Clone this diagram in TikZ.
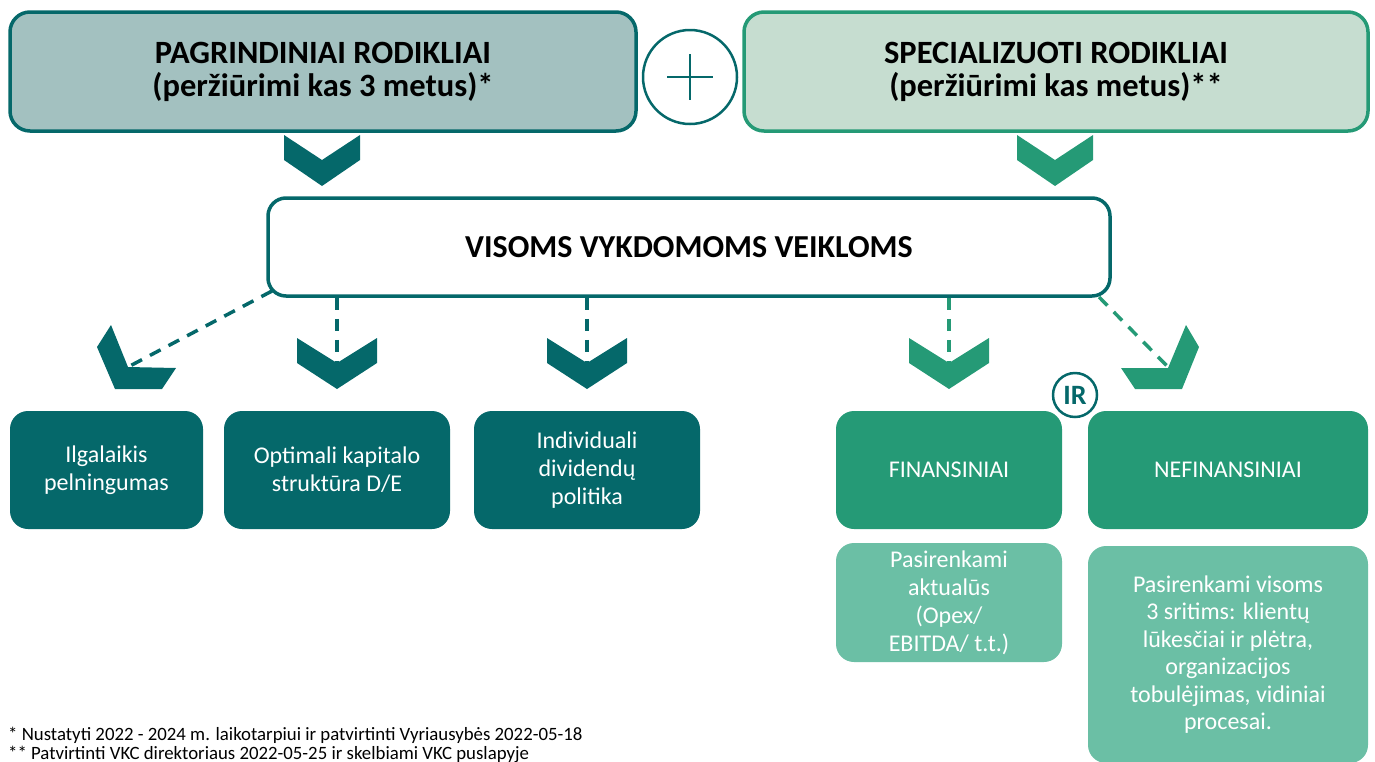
\documentclass[tikz,border=0pt]{standalone}
\usepackage{fontspec}
\setmainfont{Carlito}
\usetikzlibrary{calc}
\definecolor{dteal}{HTML}{05686A}
\definecolor{gteal}{HTML}{259A76}
\definecolor{lteal}{HTML}{6BBFA5}
\definecolor{fillA}{HTML}{A3C1C0}
\definecolor{fillB}{HTML}{C6DDD0}
\tikzset{
  topbox/.style={draw, line width=3.5pt, rounded corners=20pt, minimum height=119pt, align=center, inner sep=0pt,
     font=\fontsize{32.5}{33}\selectfont\bfseries, text=black},
  botbox/.style={rounded corners=18pt, minimum height=118pt, align=center, inner sep=0pt, text=white,
     font=\fontsize{24}{28}\selectfont},
  dashcon/.style={line width=3.5pt, dash pattern=on 12pt off 9pt},
}
\begin{document}
\begin{tikzpicture}[x=1pt,y=-1pt]
\useasboundingbox (0,0) rectangle (1375,761);
% top boxes
\node[topbox, fill=fillA, draw=dteal, minimum width=626pt] (top1) at (323,71.5) {PAGRINDINIAI RODIKLIAI\\(peržiūrimi kas 3 metus)*};
\node[topbox, fill=fillB, draw=gteal, minimum width=624pt] (top2) at (1056,71.5) {SPECIALIZUOTI RODIKLIAI\\(peržiūrimi kas metus)**};
\node[circle, draw=dteal, line width=2.5pt, minimum size=94pt, inner sep=0pt] (plus) at (690,77) {};
\draw[dteal, line width=1.6pt] ($(plus.center)+(-23,0)$) -- ($(plus.center)+(23,0)$)
  ($(plus.center)+(0,-23)$) -- ($(plus.center)+(0,23)$);
% top chevrons
\fill[dteal] (284,135) -- (322,160) -- (360,135) -- (360,160) -- (322,186) -- (284,160) -- cycle;
\fill[gteal] (1017,135) -- (1055,160) -- (1093,135) -- (1093,160) -- (1055,186) -- (1017,160) -- cycle;
% middle box
\node[draw=dteal, line width=3.5pt, rounded corners=18pt, fill=white, minimum width=842pt, minimum height=98pt,
  font=\fontsize{32}{36}\selectfont\bfseries] (mid) at (689,247) {VISOMS VYKDOMOMS VEIKLOMS};
% connector end coordinates
\coordinate (c1) at (128,367);
\coordinate (c2) at (337,363);
\coordinate (c3) at (587,363);
\coordinate (c4) at (949,363);
\coordinate (c5) at (1168,367);
\coordinate (s1) at (272,291);
\coordinate (s5) at (1099,297);
% dashed connectors
\draw[dashcon, dteal] (s1) -- (c1);
\draw[dashcon, dteal] (mid.south -| c2) -- (c2);
\draw[dashcon, dteal] (mid.south -| c3) -- (c3);
\draw[dashcon, gteal] (mid.south -| c4) -- (c4);
\draw[dashcon, gteal] (s5) -- (c5);
% small chevrons
\foreach \cx/\col in {337/dteal,587/dteal,949/gteal}{
  \fill[\col] (\cx-40,338) -- (\cx,363) -- (\cx+40,338) -- (\cx+40,363) -- (\cx,389) -- (\cx-40,363) -- cycle;
}
\fill[dteal] (111,325) -- (97,347) -- (115,389) -- (162,389) -- (176,368) -- (128,367) -- cycle;
\fill[gteal] (1186,325) -- (1199,347) -- (1182,389) -- (1135,389) -- (1121,368) -- (1168,368) -- cycle;
% IR
\node[circle, draw=dteal, line width=2.5pt, minimum size=44pt, inner sep=0pt, text=dteal,
  font=\fontsize{28}{28}\selectfont\bfseries] (ir) at (1075,395) {IR};
% bottom boxes
\node[botbox, fill=dteal, minimum width=193pt] (b1) at (106.5,470) {Ilgalaikis\\pelningumas};
\node[botbox, fill=dteal, minimum width=226pt] (b2) at (337,470) {Optimali kapitalo\\struktūra D/E};
\node[botbox, fill=dteal, minimum width=226pt] (b3) at (587,470) {Individuali\\dividendų\\politika};
\node[botbox, fill=gteal, minimum width=226pt] (b4) at (949,470) {FINANSINIAI};
\node[botbox, fill=gteal, minimum width=280pt] (b5) at (1228,470) {NEFINANSINIAI};
\node[botbox, fill=lteal, minimum width=226pt, minimum height=119pt] (b6) at (949,602.5) {Pasirenkami\\aktualūs\\(Opex/\\EBITDA/ t.t.)};
\node[botbox, fill=lteal, minimum width=280pt, minimum height=217pt, font=\fontsize{24}{27.5}\selectfont] (b7) at (1228,654.5)
  {Pasirenkami visoms\\3 sritims: klientų\\lūkesčiai ir plėtra,\\organizacijos\\tobulėjimas, vidiniai\\procesai.};
% footnotes
\node[anchor=base west, inner sep=0pt, font=\fontsize{18.8}{20}\selectfont] (f1) at (8,740)
  {* Nustatyti 2022 - 2024 m. laikotarpiui ir patvirtinti Vyriausybės 2022-05-18};
\node[anchor=base west, inner sep=0pt, font=\fontsize{18.8}{20}\selectfont] (f2) at (8,759)
  {** Patvirtinti VKC direktoriaus 2022-05-25 ir skelbiami VKC puslapyje};
\end{tikzpicture}
\end{document}
